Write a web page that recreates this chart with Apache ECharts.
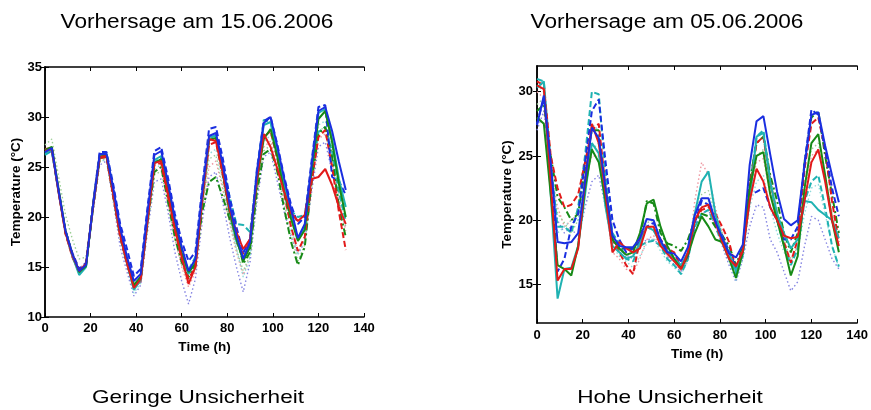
<!DOCTYPE html>
<html><head><meta charset="utf-8">
<script src="https://cdn.jsdelivr.net/npm/echarts@6/dist/echarts.min.js"></script>
<style>html,body{margin:0;padding:0;background:#fff}#c{width:871px;height:410px}</style>
</head><body><div id="c"></div>
<script>
// ---- data ----
const hours = [0,3,6,9,12,15,18,21,24,27,30,33,36,39,42,45,48,51,54,57,60,63,66,69,72,75,78,81,84,87,90,93,96,99,102,105,108,111,114,117,120,123,126,129,132];
const xTicks = [0,20,40,60,80,100,120,140];
const yTicksLeft = [10,15,20,25,30,35];
const yTicksRight = [15,20,25,30];
const titleLeft = 'Vorhersage am 15.06.2006';
const titleRight = 'Vorhersage am 05.06.2006';
const captionLeft = 'Geringe Unsicherheit';
const captionRight = 'Hohe Unsicherheit';
const xName = 'Time (h)';
const yName = 'Temperature (\u00B0C)';

// left panel (15.06.2006)
const L_blueSolid  = [26.5,26.9,22.6,18.6,16.3,14.6,15.2,21.0,26.3,26.3,22.8,18.9,16.0,13.6,14.3,20.5,26.2,26.6,23.4,19.8,17.0,14.6,15.8,22.5,28.1,28.4,25.3,21.3,18.2,15.8,17.5,24.5,29.4,30.0,27.0,23.8,20.8,17.9,19.3,25.2,30.6,31.0,28.6,25.5,22.7];
const L_redSolid   = [26.6,26.8,22.4,18.4,16.2,14.6,15.3,20.9,26.0,26.1,22.3,18.2,15.4,12.9,13.8,19.7,25.4,25.6,22.3,18.8,16.0,13.3,15.0,21.8,27.8,27.6,24.5,20.8,18.5,16.8,17.8,23.8,28.3,27.0,24.8,22.5,20.4,19.6,20.2,23.8,24.0,24.8,23.2,21.0,19.3];
const L_greenSolid = [26.7,27.0,22.7,18.6,16.3,14.5,15.1,21.0,26.0,26.2,22.5,18.4,15.6,13.2,14.0,19.8,25.4,25.8,22.6,19.2,16.4,14.5,15.3,21.7,27.7,27.9,24.5,20.6,17.8,15.6,17.0,23.6,27.8,28.8,26.0,22.5,19.8,17.6,18.7,24.6,29.8,30.6,27.5,23.3,20.0];
const L_cyanSolid  = [26.3,26.7,22.5,18.5,16.1,14.2,15.0,21.0,26.1,26.3,22.5,18.3,15.5,12.7,13.7,20.0,25.7,26.1,22.8,19.2,16.2,14.3,15.6,22.0,28.0,28.1,24.8,20.6,17.6,15.9,17.4,24.4,29.2,29.5,26.5,23.2,20.3,17.7,19.0,25.0,30.4,30.8,27.8,23.8,21.0];
const L_blueDash   = [26.4,26.6,22.6,18.6,16.4,14.8,15.4,21.2,26.5,26.5,23.2,19.3,16.8,14.1,14.8,21.0,26.6,27.0,23.9,20.3,17.6,15.6,16.5,23.0,28.8,29.0,25.9,22.0,19.0,16.4,17.8,24.8,29.6,30.0,27.2,24.0,21.2,19.3,20.0,25.6,31.0,31.2,24.0,23.6,22.2];
const L_redDash    = [26.8,26.9,22.5,18.3,16.0,14.5,15.2,20.8,25.9,26.0,22.0,18.0,15.3,13.0,13.6,19.6,25.2,25.4,22.0,18.7,15.8,13.8,15.0,21.6,27.2,27.5,24.2,20.5,17.5,16.3,17.6,23.6,28.0,28.6,25.8,22.3,19.0,16.6,18.0,23.5,28.0,28.7,25.0,20.5,16.7];
const L_greenDash  = [26.5,26.9,22.5,18.4,16.1,14.4,15.1,20.8,25.9,26.0,22.0,18.0,15.3,13.0,13.8,19.5,24.5,25.0,21.5,18.0,15.5,14.0,15.2,20.5,23.5,24.0,22.0,19.8,18.3,15.3,16.5,22.5,26.3,26.8,24.5,20.8,17.5,15.2,17.0,23.5,28.3,29.0,26.0,21.0,18.0];
const L_cyanDash   = [26.2,26.6,22.4,18.6,16.2,14.4,15.0,20.9,26.1,26.2,22.6,18.6,15.8,13.0,14.0,20.0,25.5,25.9,22.6,19.0,16.3,14.7,16.0,22.2,27.8,28.2,25.2,22.0,19.3,19.2,18.5,24.3,29.7,29.5,26.2,23.4,20.6,20.0,20.2,24.5,28.5,29.0,26.5,22.5,19.6];
const L_blueDot    = [26.5,26.8,22.8,18.8,16.5,14.8,15.4,20.3,25.2,25.6,21.5,17.0,14.5,12.1,13.2,18.5,23.5,23.8,20.5,16.5,13.6,11.3,13.8,19.5,24.0,24.5,21.5,18.0,15.0,12.5,15.5,21.5,26.0,26.5,23.5,20.5,18.0,16.3,17.5,22.5,27.0,27.5,24.5,21.5,19.0];
const L_redDot     = [26.7,27.0,22.8,18.6,16.3,14.8,15.5,20.8,25.6,25.8,22.0,17.8,15.2,13.0,13.6,19.2,24.5,25.0,21.5,17.8,15.0,13.0,14.5,20.5,25.0,25.6,22.8,19.4,16.5,14.2,16.2,22.5,27.0,27.6,25.0,21.8,19.0,16.4,17.8,23.2,27.8,28.3,25.5,21.8,18.6];
const L_greenDot   = [27.2,27.8,24.0,20.2,17.8,15.8,16.0,21.0,25.6,25.8,22.0,18.0,15.5,12.9,13.6,19.0,24.2,24.6,21.3,17.8,15.2,13.6,14.8,21.0,25.8,26.2,23.0,19.6,16.8,14.6,16.2,22.3,26.6,27.2,24.5,21.2,18.3,15.6,17.2,23.0,28.6,29.0,26.0,22.0,19.0];
const L_cyanDot    = [26.4,26.7,22.7,18.7,16.4,14.6,15.2,20.6,25.5,25.8,22.1,17.9,15.0,12.4,13.4,19.3,24.7,25.3,21.8,18.2,15.5,13.6,15.0,21.0,26.3,26.8,23.6,20.0,16.9,14.0,16.0,22.8,27.5,28.2,25.5,22.0,19.0,16.2,17.8,23.8,29.2,29.6,27.0,22.8,20.0];

// right panel (05.06.2006)
const R_blueSolid  = [27.4,29.7,24.5,18.3,18.2,18.3,19.0,23.0,27.2,26.4,22.5,18.8,18.0,17.9,17.9,18.6,20.1,20.0,18.4,17.5,17.4,16.8,17.9,20.4,21.7,21.7,19.9,18.6,17.4,17.1,18.1,24.3,27.7,28.1,25.1,22.2,20.1,19.6,20.0,24.3,28.2,28.4,25.8,23.5,21.4];
const R_redSolid   = [30.5,30.2,23.0,15.3,16.2,16.2,17.8,23.0,27.5,26.0,22.0,17.5,18.3,17.8,17.5,17.8,19.5,19.5,18.0,17.4,16.8,16.2,17.5,20.0,21.0,21.2,19.8,18.3,17.0,16.4,17.6,21.5,24.0,23.0,21.0,20.0,18.8,18.6,18.7,21.5,24.5,25.5,23.0,20.0,18.0];
const R_greenSolid = [28.0,27.5,22.0,16.5,16.2,15.7,18.0,22.5,25.5,24.5,21.5,18.5,17.8,17.3,17.5,19.0,21.3,21.6,19.5,18.0,17.0,16.2,17.3,19.0,20.3,19.5,18.5,18.3,17.0,15.5,17.5,22.5,25.0,25.3,22.0,20.0,18.0,15.7,17.2,22.5,26.0,26.7,23.5,20.0,17.5];
const R_cyanSolid  = [30.3,30.8,22.0,13.9,16.2,16.3,18.0,22.0,26.0,25.2,21.0,18.0,17.5,17.0,17.2,18.2,19.5,19.2,18.2,17.6,17.0,16.5,17.5,20.5,23.0,23.8,20.5,18.6,17.5,16.0,17.6,21.5,26.5,26.8,23.0,20.5,19.0,17.8,18.5,21.5,21.4,20.8,20.4,20.0,18.6];
const R_blueDash   = [27.5,29.5,24.0,16.0,17.0,19.5,20.5,24.5,28.5,29.4,24.5,20.0,18.5,17.5,17.8,18.3,19.5,19.8,18.5,17.6,17.0,16.5,17.2,19.8,21.5,21.2,20.0,18.8,17.6,16.3,17.5,22.0,22.2,22.5,21.0,20.0,18.5,18.5,19.5,24.5,28.6,28.2,25.5,22.5,20.3];
const R_redDash    = [30.8,30.5,25.0,22.5,21.0,21.2,22.0,24.5,27.0,27.5,22.5,18.5,17.5,16.5,15.8,18.5,19.5,19.2,18.5,17.8,17.5,16.3,17.2,20.0,20.8,21.0,20.5,19.5,18.3,16.2,17.8,22.5,26.0,26.5,23.0,20.5,18.3,16.7,18.5,24.0,27.5,28.0,25.5,21.5,18.3];
const R_greenDash  = [28.5,29.0,25.0,21.8,21.0,20.0,20.5,24.0,27.0,27.0,22.0,18.5,17.8,17.8,17.8,18.5,21.5,21.3,19.0,18.2,18.0,17.6,18.5,20.0,20.5,20.3,19.5,18.8,18.0,16.5,18.0,23.0,26.0,26.5,23.5,21.5,19.0,17.5,19.0,24.5,28.0,28.5,25.0,22.0,19.0];
const R_cyanDash   = [31.0,30.8,24.5,19.5,19.5,19.0,21.0,25.0,30.0,29.8,23.5,19.0,18.2,17.0,16.8,18.0,18.3,18.4,18.0,17.0,16.5,15.8,17.0,19.5,20.5,20.8,19.5,18.2,17.2,15.8,17.3,22.5,26.5,27.0,23.0,20.0,18.0,16.5,17.8,21.5,23.0,23.5,21.0,18.0,16.4];
const R_blueDot    = [27.0,28.5,24.0,20.0,19.0,19.5,18.5,21.0,23.0,23.5,21.0,18.0,17.5,17.3,17.0,18.0,18.5,18.5,18.0,17.3,16.5,16.0,17.0,19.5,20.5,20.8,19.5,18.0,16.5,15.2,17.0,19.5,21.2,21.0,18.5,17.5,16.0,14.5,15.2,18.0,20.3,20.0,18.5,17.0,16.2];
const R_redDot     = [30.0,29.5,24.0,21.0,19.5,20.0,20.5,23.0,25.0,25.0,21.0,17.5,17.0,16.2,15.9,17.0,18.5,18.8,18.0,17.2,16.8,16.0,17.0,21.5,24.5,23.5,21.0,19.0,17.3,15.8,17.2,22.0,24.5,24.8,22.0,20.0,18.0,17.0,18.0,22.0,25.0,25.5,23.5,20.5,18.0];
const R_greenDot   = [29.0,29.5,24.0,20.5,19.8,19.0,20.0,23.0,25.5,26.0,22.0,18.0,17.6,17.5,17.3,18.3,19.8,20.0,18.5,17.5,17.2,16.8,17.5,20.5,22.0,22.3,20.5,19.0,17.5,16.0,17.5,22.0,25.0,25.5,22.5,20.5,18.5,16.8,18.0,22.5,25.5,26.0,23.5,20.5,18.5];
const R_cyanDot    = [30.5,30.0,24.0,19.0,19.5,20.0,20.0,24.0,27.5,27.0,22.0,18.0,17.2,16.8,16.3,17.2,18.2,18.6,17.6,16.8,16.3,15.8,16.8,19.8,21.0,21.5,20.0,18.3,16.8,15.3,17.0,21.0,23.0,23.5,21.0,19.0,17.5,16.8,17.5,20.5,22.5,22.8,20.5,18.0,16.3];

// ---- styles ----
const C = {blue:'#1a2ee0', red:'#e21a1a', green:'#178a17', cyan:'#1fb2b2',
           blueL:'#8484e2', redL:'#ee98a2', greenL:'#9ccf96', cyanL:'#8cdada'};
const ST = {solid:{type:'solid',w:2}, dash:{type:[6,3],w:2}, dashdot:{type:[7,3,2,3],w:2}, dot:{type:[1.5,2.5],w:1.4}};

function mk(vals, color, st, idx){
  return {type:'line', xAxisIndex:idx, yAxisIndex:idx, showSymbol:false, silent:true, animation:false,
    data: hours.map((h,i)=>[h, vals[i]]),
    lineStyle:{color:color, width:st.w, type:st.type}};
}
function panel(set, idx){
  return [
    mk(set.blueDot, C.blueL, ST.dot, idx), mk(set.redDot, C.redL, ST.dot, idx),
    mk(set.greenDot, C.greenL, ST.dot, idx), mk(set.cyanDot, C.cyanL, ST.dot, idx),
    mk(set.cyanDash, C.cyan, ST.dash, idx), mk(set.greenDash, C.green, ST.dashdot, idx),
    mk(set.redDash, C.red, ST.dash, idx), mk(set.blueDash, C.blue, ST.dash, idx),
    mk(set.cyanSolid, C.cyan, ST.solid, idx), mk(set.greenSolid, C.green, ST.solid, idx),
    mk(set.redSolid, C.red, ST.solid, idx), mk(set.blueSolid, C.blue, ST.solid, idx)
  ];
}
const L = {blueSolid:L_blueSolid, redSolid:L_redSolid, greenSolid:L_greenSolid, cyanSolid:L_cyanSolid,
  blueDash:L_blueDash, redDash:L_redDash, greenDash:L_greenDash, cyanDash:L_cyanDash,
  blueDot:L_blueDot, redDot:L_redDot, greenDot:L_greenDot, cyanDot:L_cyanDot};
const R = {blueSolid:R_blueSolid, redSolid:R_redSolid, greenSolid:R_greenSolid, cyanSolid:R_cyanSolid,
  blueDash:R_blueDash, redDash:R_redDash, greenDash:R_greenDash, cyanDash:R_cyanDash,
  blueDot:R_blueDot, redDot:R_redDot, greenDot:R_greenDot, cyanDot:R_cyanDot};

const FF = '"Liberation Sans", Arial, sans-serif';
const lab = {color:'#000', fontFamily:FF, fontWeight:'bold', fontSize:13};
const line = {show:true, lineStyle:{color:'#000', width:1.5}};
const tick = {show:true, inside:true, length:4, lineStyle:{color:'#000', width:1}};

function xAx(idx, gap, margin){
  return [
    {type:'value', gridIndex:idx, min:0, max:140, interval:20, position:'bottom',
     axisLine:line, axisTick:tick, splitLine:{show:false},
     axisLabel:Object.assign({margin:margin, customValues:xTicks}, lab),
     name:xName, nameLocation:'middle', nameGap:gap,
     nameTextStyle:{color:'#000', fontFamily:FF, fontWeight:'bold', fontSize:13.5}},
    {type:'value', gridIndex:idx, min:0, max:140, interval:20, position:'top',
     axisLine:line, axisTick:tick, axisLabel:{show:false}, splitLine:{show:false}}
  ];
}
function yAx(idx, min, max, ticks, gap, margin){
  return [
    {type:'value', gridIndex:idx, min:min, max:max, position:'left',
     axisLine:line, axisTick:Object.assign({customValues:ticks}, tick), splitLine:{show:false},
     axisLabel:Object.assign({margin:margin, customValues:ticks}, lab),
     name:yName, nameLocation:'middle', nameGap:gap, nameRotate:90,
     nameTextStyle:{color:'#000', fontFamily:FF, fontWeight:'bold', fontSize:13.5}},
    {type:'value', gridIndex:idx, min:min, max:max, position:'right',
     axisLine:line, axisTick:Object.assign({customValues:ticks}, tick), axisLabel:{show:false}, splitLine:{show:false}}
  ];
}

const xs = xAx(0, 19, 5).concat(xAx(1, 21, 6));
const ys = yAx(0, 10, 35, yTicksLeft, 22, 3).concat(yAx(1, 12, 32, yTicksRight, 23, 4));
const seriesL = panel(L, 0);
const seriesR = panel(R, 2);

function txt(s, x, y, size, sx){
  return {type:'text', x:x, y:y, scaleX:sx, silent:true,
    style:{text:s, textAlign:'center', textVerticalAlign:'middle', font:'normal '+size+'px '+FF, fill:'#000'}};
}

const chart = echarts.init(document.getElementById('c'), null, {renderer:'canvas'});
chart.setOption({
  animation:false,
  backgroundColor:'#fff',
  grid:[
    {left:45, top:67, width:319, height:250, containLabel:false},
    {left:537, top:66, width:326, height:257, containLabel:false}
  ],
  xAxis: xs,
  yAxis: ys,
  series: seriesL.concat(seriesR),
  graphic:[
    txt(titleLeft, 197, 23, 19.5, 1.16),
    txt(titleRight, 667, 23, 19.5, 1.16),
    txt(captionLeft, 198, 398, 18.5, 1.22),
    txt(captionRight, 670, 398, 18.5, 1.22)
  ]
});
</script></body></html>
